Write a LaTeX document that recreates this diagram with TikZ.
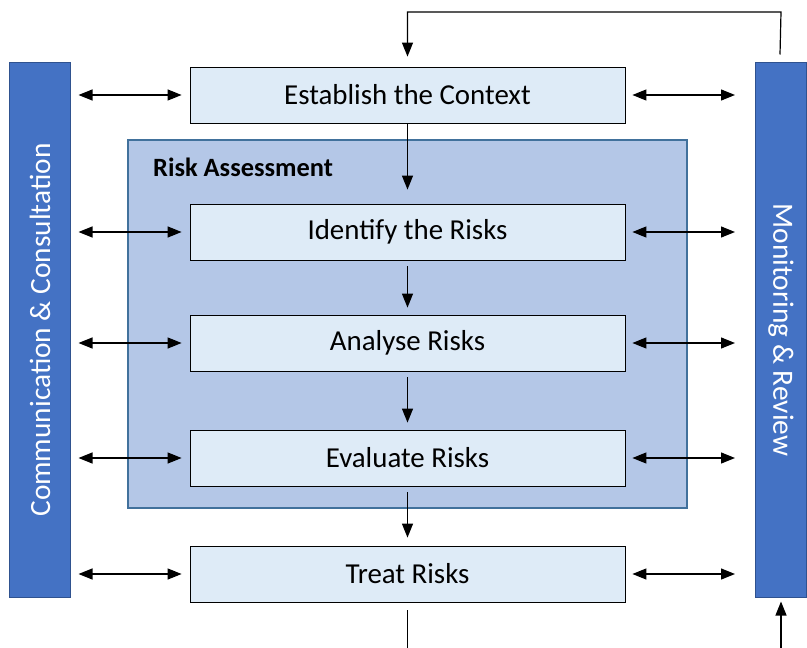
\documentclass[tikz,border=0pt]{standalone}
\usepackage{fontspec}
\setmainfont{Carlito}
\usetikzlibrary{arrows.meta}
\definecolor{barblue}{HTML}{4472C4}
\definecolor{bardark}{HTML}{2F528F}
\definecolor{assess}{HTML}{B4C7E7}
\definecolor{assessline}{HTML}{41719C}
\definecolor{stepfill}{HTML}{DEEBF7}
\tikzset{stepbox/.style={
    draw=black,
    fill=stepfill,
    line width=0.8bp,
    minimum width=435bp,
    minimum height=56bp,
    font=\fontsize{29}{33}\selectfont},
  sidebar/.style={
    draw=bardark,
    fill=barblue,
    line width=1bp,
    text=white,
    inner sep=0pt,
    font=\fontsize{29.5}{33}\selectfont},
  arr/.style={
    line width=1.2bp,
    -{Triangle[length=14bp,width=11bp]}},
  dbl/.style={
    line width=1.2bp,
    {Triangle[length=14bp,width=11bp]}-{Triangle[length=14bp,width=11bp]}}}

\begin{document}
\begin{tikzpicture}[x=1bp, y=-1bp]
  \useasboundingbox (0,0) rectangle (807,648);
\coordinate (CTX) at (407.5,95);
\coordinate (IDF) at (407.5,232);
\coordinate (ANA) at (407.5,343);
\coordinate (EVA) at (407.5,458);
\coordinate (TRT) at (407.5,574);
\coordinate (top) at (0,12);
\coordinate (bot) at (0,648);

% risk assessment frame
\node[draw=assessline,
  fill=assess,
  line width=2bp,
  minimum width=559bp,
  minimum height=368bp] (ra) at (407.5,324) {};
\node[anchor=base west,
  inner sep=0pt,
  font=\fontsize{26.5}{30}\selectfont\bfseries] (ralabel) at (153,177) {Risk Assessment};

% side bars
\node[sidebar,
  rotate=90,
  minimum width=534bp,
  minimum height=60bp] (comm) at (40,330) {Communication \& Consultation};
\node[sidebar,
  rotate=-90,
  minimum width=534bp,
  minimum height=51bp] (mon) at (781,330) {Monitoring \& Review};

% steps
\node[stepbox] (ctx) at (CTX) {Establish the Context};
\node[stepbox] (idf) at (IDF) {Identify the Risks};
\node[stepbox] (ana) at (ANA) {Analyse Risks};
\node[stepbox] (eva) at (EVA) {Evaluate Risks};
\node[stepbox] (trt) at (TRT) {Treat Risks};

% flow
\draw[arr, shorten >=14bp] (ctx) -- (idf);
\draw[arr, shorten <=6bp, shorten >=7bp] (idf) -- (ana);
\draw[arr, shorten <=6bp, shorten >=7bp] (ana) -- (eva);
\draw[arr, shorten <=6bp, shorten >=8bp] (eva) -- (trt);
\draw[line width=1.2bp] ([yshift=-8bp]trt.south) -- (trt.south |- bot);

% feedback
\draw[arr] ([xshift=-1bp, yshift=8bp]mon.west) -- (mon.west |- top)
  -- (ctx.north |- top) -- ([yshift=10bp]ctx.north);
\draw[arr] (mon.east |- bot) -- ([yshift=-4bp]mon.east);

% links to the bars
\foreach \s in {ctx,idf,ana,eva,trt} {
  \draw[dbl, shorten <=8bp, shorten >=8bp] (comm.south |- \s.west) -- (\s.west);
  \draw[dbl, shorten <=7bp, shorten >=20bp] (\s.east) -- (mon.south |- \s.east);
}

\end{tikzpicture}
\end{document}
